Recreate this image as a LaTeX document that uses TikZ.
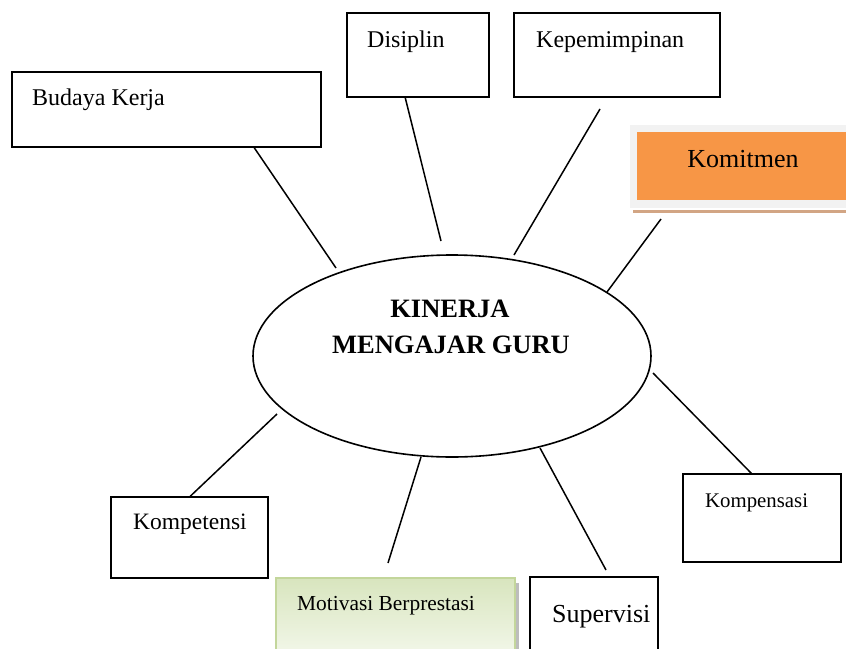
\documentclass[tikz,border=0pt]{standalone}
\usepackage{fontspec}
\setmainfont{Liberation Serif}
\usetikzlibrary{shapes.geometric}
\definecolor{orangeK}{HTML}{F79646}
\definecolor{frameK}{HTML}{F2F2F2}
\definecolor{brownK}{HTML}{D2A584}
\definecolor{motborder}{HTML}{C3D69B}
\definecolor{mottop}{HTML}{D8E5BE}
\definecolor{motbot}{HTML}{F4F8EC}
\definecolor{shadowK}{HTML}{BDBDBD}
\begin{document}
\begin{tikzpicture}[x=1pt,y=-1pt,
  box/.style={draw=black,line width=1.5pt,inner sep=0pt,rectangle},
  lbl/.style={anchor=base west,inner sep=0pt},
  conn/.style={line width=1.5pt}]
\useasboundingbox (0,0) rectangle (846,648);
\clip (0,0) rectangle (846,648);

% boxes
\node[box,minimum width=309pt,minimum height=75pt] (budaya) at (166.5,109.5) {};
\node[box,minimum width=142pt,minimum height=84pt] (disiplin) at (418,55) {};
\node[box,minimum width=206pt,minimum height=84pt] (kepem) at (617,55) {};
\fill[frameK] (630,125) rectangle (846,208);
\node[fill=orangeK,inner sep=0pt,minimum width=209pt,minimum height=68pt] (komitmen) at (741.5,166) {};
\draw[brownK,line width=3pt] (633,211) -- (846,211);
\node[box,minimum width=158pt,minimum height=88pt] (kompensasi) at (762,518) {};
\node[box,minimum width=128pt,minimum height=83pt] (supervisi) at (594,618.5) {};
\fill[shadowK] (515,583) rectangle (519,660);
\node[draw=motborder,line width=2pt,inner sep=0pt,top color=mottop,bottom color=motbot,
      minimum width=239pt,minimum height=82pt] (motivasi) at (395.5,619) {};
\node[box,minimum width=157pt,minimum height=81pt] (kompetensi) at (189.5,537.5) {};

% central ellipse
\node[draw,ellipse,line width=1.6pt,inner sep=0pt,minimum width=398pt,minimum height=202pt] (kinerja) at (452,356) {};
\node[anchor=base,inner sep=0pt,font=\fontsize{26.5}{30}\selectfont\bfseries] (kinA) at (450,317) {KINERJA};
\node[anchor=base,inner sep=0pt,font=\fontsize{26.5}{30}\selectfont\bfseries] (kinB) at (451,353) {MENGAJAR GURU};

% labels
\node[lbl,font=\fontsize{24}{28}\selectfont] (tBud) at (32,105) {Budaya Kerja};
\node[lbl,font=\fontsize{24}{28}\selectfont] (tDis) at (367,47) {Disiplin};
\node[lbl,font=\fontsize{24}{28}\selectfont] (tKep) at (536,47) {Kepemimpinan};
\node[anchor=base,inner sep=0pt,font=\fontsize{26}{30}\selectfont] (tKom) at (743,167) {Komitmen};
\node[lbl,font=\fontsize{20.8}{24}\selectfont] (tKps) at (705,507) {Kompensasi};
\node[lbl,font=\fontsize{26}{30}\selectfont] (tSup) at (552,622) {Supervisi};
\node[lbl,font=\fontsize{21.4}{25}\selectfont] (tMot) at (297,610) {Motivasi Berprestasi};
\node[lbl,font=\fontsize{23.5}{28}\selectfont] (tKpt) at (133,529) {Kompetensi};

% connectors
\coordinate (eBud) at (336,268);
\coordinate (eDis) at (441,241);
\coordinate (sKep) at (600,109);
\coordinate (eKep) at (514,255);
\coordinate (sKom) at (661,219);
\coordinate (eKom) at (607,292);
\coordinate (eKps) at (653,373);
\coordinate (eSup) at (540,448);
\coordinate (sSup) at (606,570);
\coordinate (eMot) at (421,457);
\coordinate (sMot) at (388,563);
\coordinate (eKpt) at (277,414);

\draw[conn] ([xshift=243pt]budaya.south west) -- (eBud);
\draw[conn] ([xshift=59pt]disiplin.south west) -- (eDis);
\draw[conn] (sKep) -- (eKep);
\draw[conn] (sKom) -- (eKom);
\draw[conn] (eKps) -- ([xshift=69pt]kompensasi.north west);
\draw[conn] (eSup) -- (sSup);
\draw[conn] (eMot) -- (sMot);
\draw[conn] (eKpt) -- ([xshift=80pt]kompetensi.north west);
\end{tikzpicture}
\end{document}
